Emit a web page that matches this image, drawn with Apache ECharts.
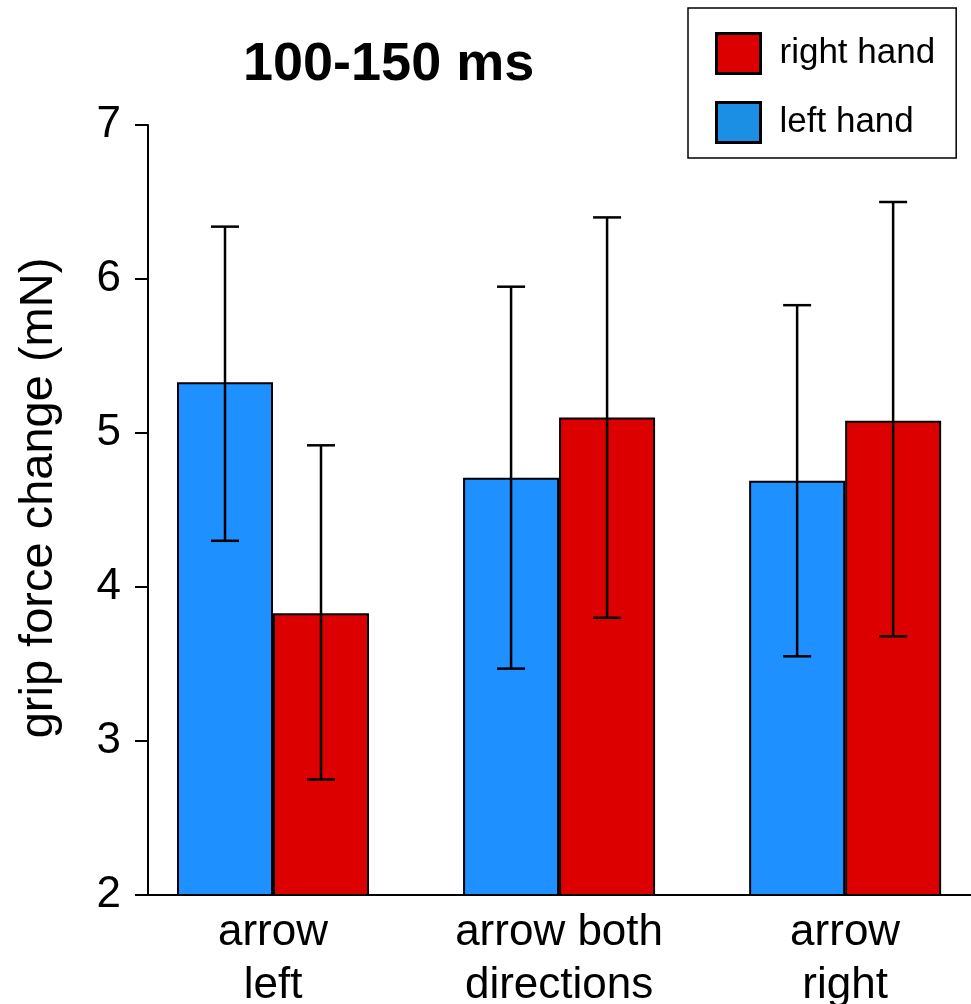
<!DOCTYPE html>
<html>
<head>
<meta charset="utf-8">
<script src="https://cdn.jsdelivr.net/npm/echarts@6/dist/echarts.min.js"></script>
<style>html,body{margin:0;padding:0;background:#fff}#c{width:971px;height:1004px}</style>
</head>
<body>
<div id="c"></div>
<script>
const categories = ['arrow\nleft', 'arrow both\ndirections', 'arrow\nright'];
const leftHand = [5.33, 4.71, 4.69];
const leftHandLow = [4.30, 3.47, 3.55];
const leftHandHigh = [6.34, 5.95, 5.83];
const rightHand = [3.83, 5.10, 5.08];
const rightHandLow = [2.75, 3.80, 3.68];
const rightHandHigh = [4.92, 6.40, 6.50];
const yTicks = [2, 3, 4, 5, 6, 7];

const BAR_W = 96;
const font = 'Liberation Sans, Arial, sans-serif';

function errSeries(name, low, high, dir) {
  return {
    type: 'custom',
    name: name + ' err',
    z: 10,
    silent: true,
    data: categories.map((c, i) => [i, low[i], high[i]]),
    renderItem: function (params, api) {
      const x = api.value(0);
      const lo = api.coord([x, api.value(1)]);
      const hi = api.coord([x, api.value(2)]);
      const cx = lo[0] + dir * BAR_W / 2;
      const cap = 14;
      const st = { stroke: '#000', lineWidth: 2.5 };
      return {
        type: 'group',
        children: [
          { type: 'line', shape: { x1: cx, y1: lo[1], x2: cx, y2: hi[1] }, style: st },
          { type: 'line', shape: { x1: cx - cap, y1: lo[1], x2: cx + cap, y2: lo[1] }, style: st },
          { type: 'line', shape: { x1: cx - cap, y1: hi[1], x2: cx + cap, y2: hi[1] }, style: st }
        ]
      };
    }
  };
}

const chart = echarts.init(document.getElementById('c'), null, { renderer: 'canvas' });
chart.setOption({
  animation: false,
  backgroundColor: '#fff',
  title: {
    text: '100-150 ms',
    left: 238, top: 33,
    textStyle: { fontFamily: font, fontSize: 54, fontWeight: 'bold', color: '#000' }
  },
  legend: {
    orient: 'vertical',
    left: 688, top: 8,
    padding: [24, 21, 14, 27],
    borderColor: '#000', borderWidth: 1.5,
    itemWidth: 44, itemHeight: 40, itemGap: 26,
    icon: 'rect',
    textStyle: { fontFamily: font, fontSize: 35, color: '#000', padding: [0, 0, 0, 14], lineHeight: 40 },
    data: [
      { name: 'right hand', itemStyle: { color: '#DD0000', borderColor: '#000', borderWidth: 3 } },
      { name: 'left hand', itemStyle: { color: '#1A8FE3', borderColor: '#000', borderWidth: 3 } }
    ]
  },
  grid: { left: 148, right: 0, top: 125, bottom: 109, containLabel: false, outerBoundsMode: 'none' },
  xAxis: {
    type: 'value',
    min: -0.437, max: 2.44,
    splitLine: { show: false },
    axisLine: { show: true, onZero: false, lineStyle: { color: '#000', width: 2 } },
    axisTick: { show: false },
    axisLabel: {
      customValues: [0, 1, 2],
      formatter: function (v) { return categories[Math.round(v)]; },
      fontFamily: font, fontSize: 44, color: '#000', lineHeight: 53, margin: 11
    }
  },
  yAxis: {
    type: 'value',
    min: 2, max: 7, interval: 1,
    name: 'grip force change (mN)',
    nameLocation: 'middle', nameRotate: 90, nameGap: 85,
    nameTextStyle: { fontFamily: font, fontSize: 47, color: '#000', padding: [0, 0, 0, 24] },
    splitLine: { show: false },
    axisLine: { show: true, onZero: false, lineStyle: { color: '#000', width: 2 } },
    axisTick: { show: true, length: 13, lineStyle: { color: '#000', width: 2 } },
    axisLabel: {
      fontFamily: font, fontSize: 44, color: '#000', margin: 27,
      formatter: function (v) { return yTicks.indexOf(v) >= 0 ? String(v) : ''; }
    }
  },
  series: [
    {
      type: 'bar', name: 'left hand',
      barWidth: BAR_W, barGap: '0%',
      itemStyle: { color: '#1E90FF', borderColor: '#000', borderWidth: 2 },
      data: leftHand.map((v, i) => [i, v])
    },
    {
      type: 'bar', name: 'right hand',
      barWidth: BAR_W, barGap: '0%',
      itemStyle: { color: '#DD0000', borderColor: '#000', borderWidth: 2 },
      data: rightHand.map((v, i) => [i, v])
    },
    errSeries('left hand', leftHandLow, leftHandHigh, -1),
    errSeries('right hand', rightHandLow, rightHandHigh, 1)
  ]
});
</script>
</body>
</html>
